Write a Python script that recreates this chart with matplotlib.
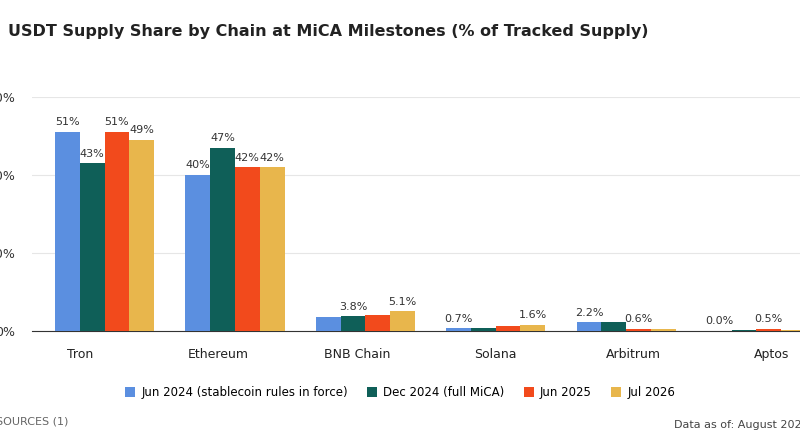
import numpy as np
import matplotlib.pyplot as plt

chains = ['Tron', 'Ethereum', 'BNB Chain', 'Solana', 'Arbitrum', 'Aptos']
series = ['Jun 2024 (stablecoin rules in force)', 'Dec 2024 (full MiCA)', 'Jun 2025', 'Jul 2026']
values = [
    [51, 40, 3.5, 0.7, 2.2, 0.0],
    [43, 47, 3.8, 0.8, 2.2, 0.3],
    [51, 42, 4.0, 1.3, 0.6, 0.5],
    [49, 42, 5.1, 1.6, 0.5, 0.4],
]
# which bars carry a value label
labels = [
    ['51%', '40%', None, '0.7%', '2.2%', '0.0%'],
    ['43%', '47%', '3.8%', None, None, None],
    ['51%', '42%', None, None, '0.6%', '0.5%'],
    ['49%', '42%', '5.1%', '1.6%', None, None],
]
colors = ['#5b8fe0', '#0f5f58', '#f24a1c', '#e8b64c']

fig = plt.figure(figsize=(8, 4.45), dpi=100)
ax = fig.add_axes([0.04, 0.256, 1.0, 0.526])

x = np.arange(len(chains))
w = 0.19
for k in range(4):
    pos = x + w / 2 + k * w
    ax.bar(pos, values[k], width=w, color=colors[k], label=series[k], zorder=3)
    for p, v, lab in zip(pos, values[k], labels[k]):
        if lab:
            ax.text(p, v + 1.2, lab, ha='center', va='bottom', fontsize=8, color='#333333')

ax.set_xlim(-0.177, 5.96)
ax.set_ylim(0, 60)
ax.set_yticks([0, 20, 40, 60])
ax.set_yticklabels(['0%', '20%', '40%', '60%'], fontsize=9, color='#333333')
ax.set_xticks(0.19 + 1.062 * x)
ax.set_xticklabels(chains, fontsize=9, color='#222222')
ax.tick_params(length=0, pad=12)
ax.grid(axis='y', color='#e6e6e6', linewidth=0.8, zorder=0)
for s in ['top', 'right', 'left']:
    ax.spines[s].set_visible(False)
ax.spines['bottom'].set_color('#333333')

fig.text(0.01, 0.93, 'USDT Supply Share by Chain at MiCA Milestones (% of Tracked Supply)',
         fontsize=11.5, fontweight='bold', color='#222222', va='center')
fig.legend(loc='center', bbox_to_anchor=(0.5, 0.117), ncol=4, frameon=False, fontsize=8.5,
           handlelength=0.9, handleheight=0.9, columnspacing=1.6, handletextpad=0.5)
fig.text(-0.005, 0.052, 'SOURCES (1)', fontsize=8, color='#666666', va='center')
fig.text(0.843, 0.045, 'Data as of: August 2025', fontsize=8, color='#444444', va='center')

fig.savefig('out.png')
